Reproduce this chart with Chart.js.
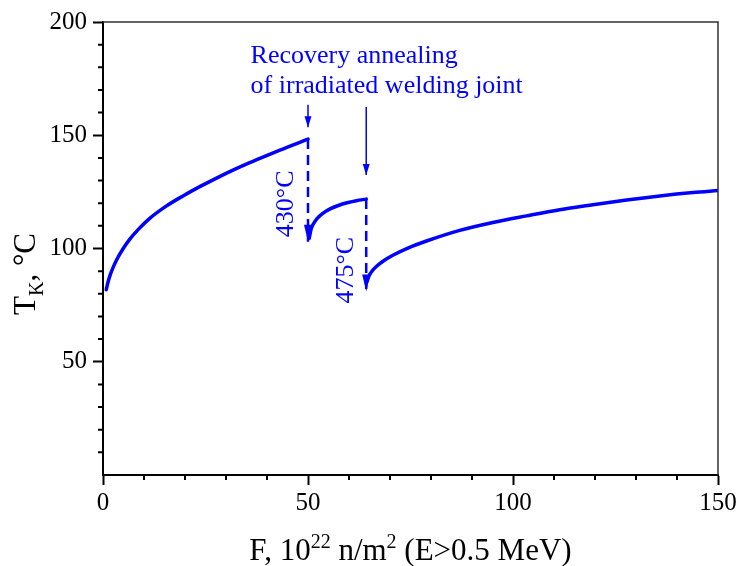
<!DOCTYPE html>
<html>
<head>
<meta charset="utf-8">
<script src="https://cdn.jsdelivr.net/npm/chart.js@4.4.1/dist/chart.umd.min.js"></script>
<style>
  html, body { margin: 0; padding: 0; background: #fff; }
</style>
</head>
<body>
<canvas id="chart" width="740" height="566"></canvas>
<script>
// values
const seg1X = [0.8, 1.2, 1.8, 2.6, 3.5, 4.9, 6.5, 8.5, 11.4, 15.5, 19.5, 23.6, 27.7, 31.7, 35.8, 39.9, 44, 48, 50];
const seg1Y = [81.8, 85, 88.6, 92.2, 95.6, 99.9, 104, 108.2, 113.3, 118.8, 123.2, 127.3, 131.1, 134.6, 137.9, 141, 144, 146.9, 148.3];

const seg2X = [50.3, 50.7, 51.3, 52.2, 53.6, 55.5, 57.7, 59.8, 61.8, 64.2];
const seg2Y = [104.5, 108.2, 110.8, 113.2, 115.5, 117.6, 119.2, 120.3, 121.1, 121.8];

const seg3X = [64.4, 64.9, 65.7, 66.8, 68.3, 70.7, 74.5, 78.9, 87, 95.1, 103.3, 111.4, 119.5, 127.7, 135.8, 143.9, 150];
const seg3Y = [85.5, 88, 90.2, 92.3, 94.4, 97, 100.3, 103.3, 108, 111.5, 114.4, 117.1, 119.3, 121.4, 123.2, 124.7, 125.6];

// annealing drops (dashed) and pointer arrows
const drop1X = [50, 50];
const drop1Y = [148.3, 103];
const drop2X = [64.2, 64.2];
const drop2Y = [121.8, 81];
const pointer1Y = [163.5, 153.5];
const pointer2Y = [162.5, 132.5];

const xTickLabels = [0, 50, 100, 150];
const yTickLabels = [50, 100, 150, 200];

const SERIF = '"Liberation Serif", "Times New Roman", serif';
const BLUE = '#0000ff';

function pts(xs, ys) {
  return xs.map((v, i) => ({ x: v, y: ys[i] }));
}

function curve(xs, ys) {
  return {
    data: pts(xs, ys),
    showLine: true,
    borderColor: BLUE,
    borderWidth: 3.5,
    pointRadius: 0,
    cubicInterpolationMode: 'monotone',
    borderCapStyle: 'round',
    borderJoinStyle: 'round'
  };
}

function arrowLine(xs, ys, dashed, head) {
  return {
    data: pts(xs, ys),
    showLine: true,
    borderColor: BLUE,
    borderWidth: dashed ? 2.5 : 1.5,
    borderDash: dashed ? [10, 6] : [],
    pointRadius: 0,
    arrowHead: head
  };
}

// draws a run of text pieces [text, size, dy] starting at x
function drawRuns(ctx, runs, x, y) {
  runs.forEach(r => {
    ctx.font = r[1] + 'px ' + SERIF;
    ctx.fillText(r[0], x, y + r[2]);
    x += ctx.measureText(r[0]).width;
  });
}
function runsWidth(ctx, runs) {
  let w = 0;
  runs.forEach(r => {
    ctx.font = r[1] + 'px ' + SERIF;
    w += ctx.measureText(r[0]).width;
  });
  return w;
}

const decorations = {
  id: 'decorations',
  afterDatasetsDraw(chart) {
    const ctx = chart.ctx;
    chart.data.datasets.forEach((ds, i) => {
      if (!ds.arrowHead) return;
      const p = chart.getDatasetMeta(i).data;
      const a = p[p.length - 2], b = p[p.length - 1];
      const ang = Math.atan2(b.y - a.y, b.x - a.x);
      const L = ds.arrowHead[0], W = ds.arrowHead[1];
      ctx.save();
      ctx.translate(b.x, b.y);
      ctx.rotate(ang);
      ctx.beginPath();
      ctx.moveTo(0, 0);
      ctx.lineTo(-L, -W / 2);
      ctx.lineTo(-L, W / 2);
      ctx.closePath();
      ctx.fillStyle = ds.borderColor;
      ctx.fill();
      ctx.restore();
    });
  },
  afterDraw(chart) {
    const ctx = chart.ctx;
    const xs = chart.scales.x, ys = chart.scales.y;
    const area = chart.chartArea;
    ctx.save();

    // thin top and right frame
    ctx.strokeStyle = '#333';
    ctx.lineWidth = 1.5;
    ctx.beginPath();
    ctx.moveTo(area.left, area.top);
    ctx.lineTo(area.right, area.top);
    ctx.lineTo(area.right, area.bottom);
    ctx.stroke();

    // minor ticks
    ctx.strokeStyle = '#000';
    ctx.lineWidth = 2;
    ctx.beginPath();
    xs.ticks.forEach(t => {
      if (t.value % 50 === 0) return;
      const px = xs.getPixelForValue(t.value);
      ctx.moveTo(px, area.bottom);
      ctx.lineTo(px, area.bottom + 5);
    });
    ys.ticks.forEach(t => {
      if (t.value % 50 === 0) return;
      const py = ys.getPixelForValue(t.value);
      ctx.moveTo(area.left - 5, py);
      ctx.lineTo(area.left, py);
    });
    ctx.stroke();

    // axis titles
    ctx.fillStyle = '#000';
    ctx.textAlign = 'left';
    ctx.textBaseline = 'alphabetic';
    const xTitle = [['F, 10', 31, 0], ['22', 20, -12], [' n/m', 31, 0], ['2', 20, -12], [' (E>0.5 MeV)', 31, 0]];
    const cx = (area.left + area.right) / 2;
    drawRuns(ctx, xTitle, cx - runsWidth(ctx, xTitle) / 2, 560);

    const yTitle = [['T', 31, 0], ['K', 20, 8], [',', 31, 0], [' \u00B0C', 31, 0]];
    ctx.save();
    ctx.translate(35, 274);
    ctx.rotate(-Math.PI / 2);
    drawRuns(ctx, yTitle, -runsWidth(ctx, yTitle) / 2, 0);
    ctx.restore();

    // annotations
    ctx.fillStyle = BLUE;
    ctx.font = '26px ' + SERIF;
    ctx.textAlign = 'left';
    ctx.fillText('Recovery annealing', xs.getPixelForValue(36), ys.getPixelForValue(182));
    ctx.fillText('of irradiated welding joint', xs.getPixelForValue(36), ys.getPixelForValue(168.5));

    ctx.textAlign = 'center';
    [['430\u00B0C', 46.3, 119.7], ['475\u00B0C', 60.9, 90.4]].forEach(l => {
      ctx.save();
      ctx.translate(xs.getPixelForValue(l[1]), ys.getPixelForValue(l[2]));
      ctx.rotate(-Math.PI / 2);
      ctx.fillText(l[0], 0, 0);
      ctx.restore();
    });

    ctx.restore();
  }
};

new Chart(document.getElementById('chart'), {
  type: 'scatter',
  data: {
    datasets: [
      curve(seg1X, seg1Y),
      curve(seg2X, seg2Y),
      curve(seg3X, seg3Y),
      arrowLine(drop1X, drop1Y, true, [17, 8]),
      arrowLine(drop2X, drop2Y, true, [17, 8]),
      arrowLine(drop1X, pointer1Y, false, [11, 7]),
      arrowLine(drop2X, pointer2Y, false, [11, 7])
    ]
  },
  options: {
    responsive: false,
    animation: false,
    layout: { padding: { top: 22, right: 22, left: 0, bottom: 0 } },
    plugins: { legend: { display: false }, tooltip: { enabled: false } },
    scales: {
      x: {
        type: 'linear',
        min: 0,
        max: 150,
        afterFit: s => { s.height = 91; },
        border: { display: true, color: '#000', width: 2 },
        grid: {
          drawOnChartArea: false,
          tickLength: 10,
          tickWidth: 2,
          tickColor: c => (c.tick && c.tick.value % 50 === 0) ? '#000' : 'rgba(0,0,0,0)'
        },
        ticks: {
          stepSize: 10,
          autoSkip: false,
          maxRotation: 0,
          padding: 3,
          color: '#000',
          font: { family: SERIF, size: 25 },
          callback: v => xTickLabels.includes(v) ? String(v) : ''
        }
      },
      y: {
        type: 'linear',
        min: 0,
        max: 200,
        afterFit: s => { s.width = 103; },
        border: { display: true, color: '#000', width: 2 },
        grid: {
          drawOnChartArea: false,
          tickLength: 10,
          tickWidth: 2,
          tickColor: c => (c.tick && c.tick.value % 50 === 0 && c.tick.value > 0) ? '#000' : 'rgba(0,0,0,0)'
        },
        ticks: {
          stepSize: 10,
          autoSkip: false,
          padding: 6,
          color: '#000',
          font: { family: SERIF, size: 25 },
          callback: v => yTickLabels.includes(v) ? String(v) : ''
        }
      }
    }
  },
  plugins: [decorations]
});
</script>
</body>
</html>
